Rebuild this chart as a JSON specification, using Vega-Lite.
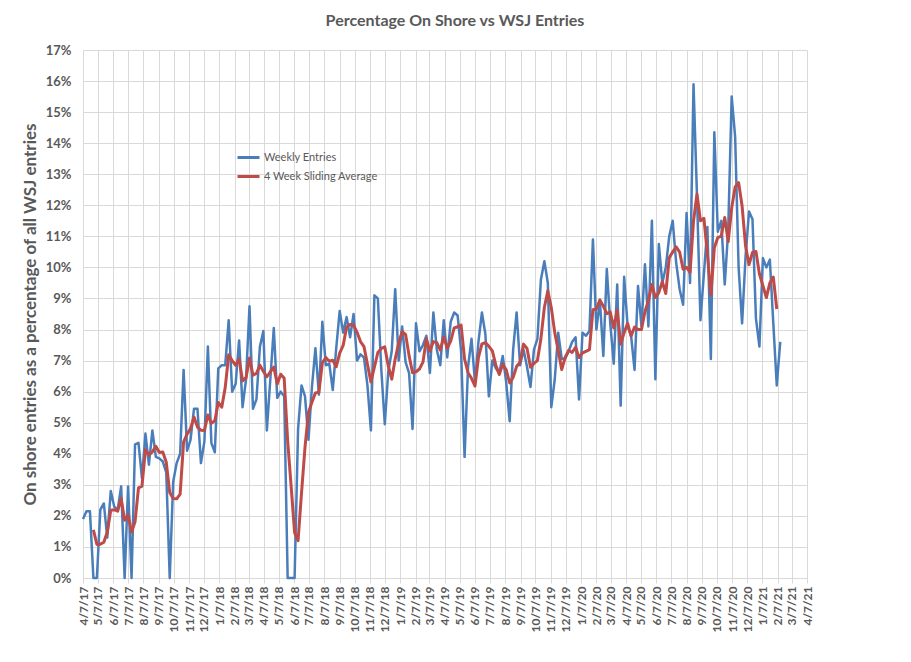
{
"$schema": "https://vega.github.io/schema/vega-lite/v6.json",
"width": 724, "height": 528,
"autosize": {"type": "none"},
"padding": {"left": 83, "top": 50, "right": 104, "bottom": 84},
"background": "white",
"config": {"font": "Lato", "view": {"stroke": null}, "axis": {"labelOverlap": false, "labelBound": false, "labelFlush": false}},
"title": {"text": "Percentage On Shore vs WSJ Entries", "fontSize": 16, "font": "Lato", "fontWeight": "bold", "color": "#595959", "offset": 15, "dx": 10},
"data": {"values": [
{"d":"2017-04-07","w":1.9},{"d":"2017-04-14","w":2.15},{"d":"2017-04-21","w":2.15},{"d":"2017-04-28","w":0,"a":1.55},
{"d":"2017-05-05","w":0,"a":1.08},{"d":"2017-05-12","w":2.2,"a":1.09},{"d":"2017-05-19","w":2.4,"a":1.15},{"d":"2017-05-26","w":1.3,"a":1.48},
{"d":"2017-06-02","w":2.8,"a":2.18},{"d":"2017-06-09","w":2.3,"a":2.2},{"d":"2017-06-16","w":2.2,"a":2.15},{"d":"2017-06-23","w":2.95,"a":2.56},{"d":"2017-06-30","w":0,"a":1.86},
{"d":"2017-07-07","w":2.95,"a":2.03},{"d":"2017-07-14","w":0,"a":1.48},{"d":"2017-07-21","w":4.3,"a":1.81},{"d":"2017-07-28","w":4.35,"a":2.9},
{"d":"2017-08-04","w":3.2,"a":2.96},{"d":"2017-08-11","w":4.65,"a":4.13},{"d":"2017-08-18","w":3.65,"a":3.96},{"d":"2017-08-25","w":4.75,"a":4.06},
{"d":"2017-09-01","w":3.9,"a":4.24},{"d":"2017-09-08","w":3.85,"a":4.04},{"d":"2017-09-15","w":3.75,"a":4.06},{"d":"2017-09-22","w":3.4,"a":3.73},{"d":"2017-09-29","w":0,"a":2.75},
{"d":"2017-10-06","w":3.1,"a":2.56},{"d":"2017-10-13","w":3.7,"a":2.55},{"d":"2017-10-20","w":4.0,"a":2.7},{"d":"2017-10-27","w":6.7,"a":4.38},
{"d":"2017-11-03","w":4.1,"a":4.63},{"d":"2017-11-10","w":4.45,"a":4.81},{"d":"2017-11-17","w":5.45,"a":5.18},{"d":"2017-11-24","w":5.45,"a":4.86},
{"d":"2017-12-01","w":3.7,"a":4.76},{"d":"2017-12-08","w":4.4,"a":4.75},{"d":"2017-12-15","w":7.45,"a":5.25},{"d":"2017-12-22","w":4.35,"a":4.98},{"d":"2017-12-29","w":4.05,"a":5.06},
{"d":"2018-01-05","w":6.75,"a":5.65},{"d":"2018-01-12","w":6.85,"a":5.5},{"d":"2018-01-19","w":6.85,"a":6.13},{"d":"2018-01-26","w":8.3,"a":7.19},
{"d":"2018-02-02","w":6.0,"a":7.0},{"d":"2018-02-09","w":6.25,"a":6.85},{"d":"2018-02-16","w":7.65,"a":7.05},{"d":"2018-02-23","w":5.5,"a":6.35},
{"d":"2018-03-02","w":6.4,"a":6.45},{"d":"2018-03-09","w":8.75,"a":7.08},{"d":"2018-03-16","w":5.45,"a":6.53},{"d":"2018-03-23","w":5.75,"a":6.59},{"d":"2018-03-30","w":7.45,"a":6.85},
{"d":"2018-04-06","w":7.95,"a":6.65},{"d":"2018-04-13","w":4.75,"a":6.48},{"d":"2018-04-20","w":6.4,"a":6.64},{"d":"2018-04-27","w":8.05,"a":6.79},
{"d":"2018-05-04","w":5.8,"a":6.25},{"d":"2018-05-11","w":6.0,"a":6.56},{"d":"2018-05-18","w":5.85,"a":6.43},{"d":"2018-05-25","w":0,"a":4.41},
{"d":"2018-06-01","w":0,"a":2.96},{"d":"2018-06-08","w":0,"a":1.46},{"d":"2018-06-15","w":4.8,"a":1.2},{"d":"2018-06-22","w":6.2,"a":2.75},{"d":"2018-06-29","w":5.85,"a":4.21},
{"d":"2018-07-06","w":4.45,"a":5.33},{"d":"2018-07-13","w":6.15,"a":5.66},{"d":"2018-07-20","w":7.4,"a":5.96},{"d":"2018-07-27","w":5.9,"a":5.98},
{"d":"2018-08-03","w":8.25,"a":6.93},{"d":"2018-08-10","w":6.85,"a":7.1},{"d":"2018-08-17","w":6.9,"a":6.98},{"d":"2018-08-24","w":6.05,"a":7.01},{"d":"2018-08-31","w":7.4,"a":6.8},
{"d":"2018-09-07","w":8.6,"a":7.24},{"d":"2018-09-14","w":7.9,"a":7.49},{"d":"2018-09-21","w":8.4,"a":8.08},{"d":"2018-09-28","w":7.75,"a":8.16},
{"d":"2018-10-05","w":8.5,"a":8.14},{"d":"2018-10-12","w":7.0,"a":7.91},{"d":"2018-10-19","w":7.2,"a":7.61},{"d":"2018-10-26","w":7.1,"a":7.45},
{"d":"2018-11-02","w":6.2,"a":6.88},{"d":"2018-11-09","w":4.75,"a":6.31},{"d":"2018-11-16","w":9.1,"a":6.79},{"d":"2018-11-23","w":9.0,"a":7.26},{"d":"2018-11-30","w":6.7,"a":7.39},
{"d":"2018-12-07","w":4.95,"a":7.44},{"d":"2018-12-14","w":6.65,"a":6.83},{"d":"2018-12-21","w":7.3,"a":6.4},{"d":"2018-12-28","w":9.3,"a":7.05},
{"d":"2019-01-04","w":7.0,"a":7.56},{"d":"2019-01-11","w":8.1,"a":7.93},{"d":"2019-01-18","w":6.95,"a":7.84},{"d":"2019-01-25","w":6.6,"a":7.16},
{"d":"2019-02-01","w":4.8,"a":6.61},{"d":"2019-02-08","w":8.2,"a":6.64},{"d":"2019-02-15","w":7.3,"a":6.73},{"d":"2019-02-22","w":7.5,"a":6.95},
{"d":"2019-03-01","w":7.8,"a":7.7},{"d":"2019-03-08","w":6.6,"a":7.3},{"d":"2019-03-15","w":8.55,"a":7.61},{"d":"2019-03-22","w":7.35,"a":7.58},{"d":"2019-03-29","w":6.85,"a":7.34},
{"d":"2019-04-05","w":8.3,"a":7.76},{"d":"2019-04-12","w":7.1,"a":7.4},{"d":"2019-04-19","w":8.25,"a":7.63},{"d":"2019-04-26","w":8.55,"a":8.05},
{"d":"2019-05-03","w":8.45,"a":8.09},{"d":"2019-05-10","w":7.3,"a":8.14},{"d":"2019-05-17","w":3.9,"a":7.05},{"d":"2019-05-24","w":6.8,"a":6.61},{"d":"2019-05-31","w":7.7,"a":6.43},
{"d":"2019-06-07","w":6.3,"a":6.18},{"d":"2019-06-14","w":7.6,"a":7.1},{"d":"2019-06-21","w":8.55,"a":7.54},{"d":"2019-06-28","w":7.85,"a":7.58},
{"d":"2019-07-05","w":5.85,"a":7.46},{"d":"2019-07-12","w":7.0,"a":7.31},{"d":"2019-07-19","w":6.75,"a":6.86},{"d":"2019-07-26","w":6.6,"a":6.55},
{"d":"2019-08-02","w":7.15,"a":6.88},{"d":"2019-08-09","w":6.3,"a":6.7},{"d":"2019-08-16","w":5.05,"a":6.28},{"d":"2019-08-23","w":7.35,"a":6.46},{"d":"2019-08-30","w":8.55,"a":6.81},
{"d":"2019-09-06","w":6.85,"a":6.95},{"d":"2019-09-13","w":7.35,"a":7.53},{"d":"2019-09-20","w":6.8,"a":7.39},{"d":"2019-09-27","w":6.15,"a":6.79},
{"d":"2019-10-04","w":7.35,"a":6.91},{"d":"2019-10-11","w":7.7,"a":7.0},{"d":"2019-10-18","w":9.6,"a":7.7},{"d":"2019-10-25","w":10.2,"a":8.71},
{"d":"2019-11-01","w":9.5,"a":9.25},{"d":"2019-11-08","w":5.5,"a":8.7},{"d":"2019-11-15","w":6.4,"a":7.9},{"d":"2019-11-22","w":7.9,"a":7.33},{"d":"2019-11-29","w":7.05,"a":6.71},
{"d":"2019-12-06","w":7.07,"a":7.1},{"d":"2019-12-13","w":7.3,"a":7.33},{"d":"2019-12-20","w":7.6,"a":7.26},{"d":"2019-12-27","w":7.75,"a":7.43},
{"d":"2020-01-03","w":5.75,"a":7.1},{"d":"2020-01-10","w":7.9,"a":7.25},{"d":"2020-01-17","w":7.8,"a":7.3},{"d":"2020-01-24","w":7.95,"a":7.35},{"d":"2020-01-31","w":10.9,"a":8.64},
{"d":"2020-02-07","w":8.0,"a":8.66},{"d":"2020-02-14","w":8.95,"a":8.95},{"d":"2020-02-21","w":7.15,"a":8.75},{"d":"2020-02-28","w":9.95,"a":8.51},
{"d":"2020-03-06","w":8.2,"a":8.56},{"d":"2020-03-13","w":6.9,"a":8.05},{"d":"2020-03-20","w":9.45,"a":8.63},{"d":"2020-03-27","w":5.55,"a":7.53},
{"d":"2020-04-03","w":9.7,"a":7.9},{"d":"2020-04-10","w":8.1,"a":8.2},{"d":"2020-04-17","w":7.8,"a":7.79},{"d":"2020-04-24","w":6.7,"a":8.08},
{"d":"2020-05-01","w":9.4,"a":8.0},{"d":"2020-05-08","w":8.1,"a":8.0},{"d":"2020-05-15","w":10.1,"a":8.58},{"d":"2020-05-22","w":8.1,"a":8.93},{"d":"2020-05-29","w":11.5,"a":9.45},
{"d":"2020-06-05","w":6.4,"a":9.03},{"d":"2020-06-12","w":10.75,"a":9.19},{"d":"2020-06-19","w":9.5,"a":9.54},{"d":"2020-06-26","w":10.0,"a":9.16},
{"d":"2020-07-03","w":11.0,"a":10.31},{"d":"2020-07-10","w":11.5,"a":10.5},{"d":"2020-07-17","w":10.15,"a":10.66},{"d":"2020-07-24","w":9.3,"a":10.49},{"d":"2020-07-31","w":8.8,"a":9.94},
{"d":"2020-08-07","w":11.75,"a":10.0},{"d":"2020-08-14","w":9.5,"a":9.84},{"d":"2020-08-21","w":15.9,"a":11.49},{"d":"2020-08-28","w":12.3,"a":12.36},
{"d":"2020-09-04","w":8.3,"a":11.5},{"d":"2020-09-11","w":9.8,"a":11.58},{"d":"2020-09-18","w":11.3,"a":10.43},{"d":"2020-09-25","w":7.05,"a":9.11},
{"d":"2020-10-02","w":14.35,"a":10.63},{"d":"2020-10-09","w":11.15,"a":10.96},{"d":"2020-10-16","w":11.5,"a":11.01},{"d":"2020-10-23","w":9.45,"a":11.61},{"d":"2020-10-30","w":11.2,"a":10.83},
{"d":"2020-11-06","w":15.5,"a":11.91},{"d":"2020-11-13","w":14.2,"a":12.59},{"d":"2020-11-20","w":10.0,"a":12.73},{"d":"2020-11-27","w":8.2,"a":11.98},
{"d":"2020-12-04","w":10.35,"a":10.69},{"d":"2020-12-11","w":11.8,"a":10.09},{"d":"2020-12-18","w":11.55,"a":10.48},{"d":"2020-12-25","w":8.35,"a":10.51},
{"d":"2021-01-01","w":7.45,"a":9.79},{"d":"2021-01-08","w":10.3,"a":9.41},{"d":"2021-01-15","w":10.0,"a":9.03},{"d":"2021-01-22","w":10.25,"a":9.5},{"d":"2021-01-29","w":8.2,"a":9.69},
{"d":"2021-02-05","w":6.2,"a":8.66},{"d":"2021-02-12","w":7.6}
]},
"encoding": {
  "x": {"field": "d", "type": "temporal",
    "scale": {"type": "utc", "domain": [{"year":2017,"month":4,"date":7,"utc":true},{"year":2021,"month":4,"date":7,"utc":true}]},
    "axis": {"title": null, "format": "%-m/%-d/%y", "labelAngle": -90, "labelFontSize": 12, "labelFont": "Lato", "labelFontWeight": "bold", "labelColor": "#595959",
      "grid": true, "gridColor": "#d9d9d9", "gridWidth": 1, "tickColor": "#d9d9d9", "tickSize": 5, "domainColor": "#d9d9d9", "labelPadding": 3,
      "labelOverlap": false, "labelFlush": false, "labelBound": false,
      "values": [
{"year":2017,"month":4,"date":7,"utc":true},{"year":2017,"month":5,"date":7,"utc":true},{"year":2017,"month":6,"date":7,"utc":true},{"year":2017,"month":7,"date":7,"utc":true},
{"year":2017,"month":8,"date":7,"utc":true},{"year":2017,"month":9,"date":7,"utc":true},{"year":2017,"month":10,"date":7,"utc":true},{"year":2017,"month":11,"date":7,"utc":true},
{"year":2017,"month":12,"date":7,"utc":true},{"year":2018,"month":1,"date":7,"utc":true},{"year":2018,"month":2,"date":7,"utc":true},{"year":2018,"month":3,"date":7,"utc":true},
{"year":2018,"month":4,"date":7,"utc":true},{"year":2018,"month":5,"date":7,"utc":true},{"year":2018,"month":6,"date":7,"utc":true},{"year":2018,"month":7,"date":7,"utc":true},
{"year":2018,"month":8,"date":7,"utc":true},{"year":2018,"month":9,"date":7,"utc":true},{"year":2018,"month":10,"date":7,"utc":true},{"year":2018,"month":11,"date":7,"utc":true},
{"year":2018,"month":12,"date":7,"utc":true},{"year":2019,"month":1,"date":7,"utc":true},{"year":2019,"month":2,"date":7,"utc":true},{"year":2019,"month":3,"date":7,"utc":true},
{"year":2019,"month":4,"date":7,"utc":true},{"year":2019,"month":5,"date":7,"utc":true},{"year":2019,"month":6,"date":7,"utc":true},{"year":2019,"month":7,"date":7,"utc":true},
{"year":2019,"month":8,"date":7,"utc":true},{"year":2019,"month":9,"date":7,"utc":true},{"year":2019,"month":10,"date":7,"utc":true},{"year":2019,"month":11,"date":7,"utc":true},
{"year":2019,"month":12,"date":7,"utc":true},{"year":2020,"month":1,"date":7,"utc":true},{"year":2020,"month":2,"date":7,"utc":true},{"year":2020,"month":3,"date":7,"utc":true},
{"year":2020,"month":4,"date":7,"utc":true},{"year":2020,"month":5,"date":7,"utc":true},{"year":2020,"month":6,"date":7,"utc":true},{"year":2020,"month":7,"date":7,"utc":true},
{"year":2020,"month":8,"date":7,"utc":true},{"year":2020,"month":9,"date":7,"utc":true},{"year":2020,"month":10,"date":7,"utc":true},{"year":2020,"month":11,"date":7,"utc":true},
{"year":2020,"month":12,"date":7,"utc":true},{"year":2021,"month":1,"date":7,"utc":true},{"year":2021,"month":2,"date":7,"utc":true},{"year":2021,"month":3,"date":7,"utc":true},
{"year":2021,"month":4,"date":7,"utc":true}
      ]}
  }
},
"resolve": {"axis": {"y": "independent"}},
"layer": [
  {"mark": {"type": "line", "strokeWidth": 2.5, "strokeJoin": "round", "clip": false},
   "encoding": {
     "y": {"field": "w", "type": "quantitative", "title": "On shore entries as a percentage of all WSJ entries",
       "scale": {"domain": [0, 17], "nice": false, "zero": true},
       "axis": {"values": [0,1,2,3,4,5,6,7,8,9,10,11,12,13,14,15,16,17], "labelExpr": "datum.value + '%'", "labelOverlap": false, "labelBound": false, "labelFlush": false,
         "labelFontSize": 13, "labelFont": "Lato", "labelFontWeight": "bold", "labelColor": "#595959", "labelPadding": 12,
         "ticks": false, "domain": false, "grid": true, "gridColor": "#d9d9d9", "gridWidth": 1,
         "titleFont": "Lato", "titleFontSize": 17, "titleFontWeight": "bold", "titleColor": "#595959",
         "titleX": -53, "titleY": 264, "titleAlign": "center", "titleBaseline": "middle", "titleAngle": 270}},
     "color": {"datum": "Weekly Entries", "type": "nominal",
       "scale": {"domain": ["Weekly Entries", "4 Week Sliding Average"], "range": ["#4a7ebb", "#be4b48"]},
       "legend": {"orient": "none", "legendX": 153, "legendY": 95, "title": null, "padding": 0,
         "symbolType": "stroke", "symbolStrokeWidth": 3, "symbolSize": 484,
         "labelFont": "Lato", "labelFontSize": 11, "labelColor": "#595959", "rowPadding": 0, "labelOffset": 3}}
   }},
  {"transform": [{"filter": "isValid(datum.a)"}],
   "mark": {"type": "line", "strokeWidth": 3, "strokeJoin": "round"},
   "encoding": {
     "y": {"field": "a", "type": "quantitative", "axis": null},
     "color": {"datum": "4 Week Sliding Average", "type": "nominal"}
   }}
]
}
